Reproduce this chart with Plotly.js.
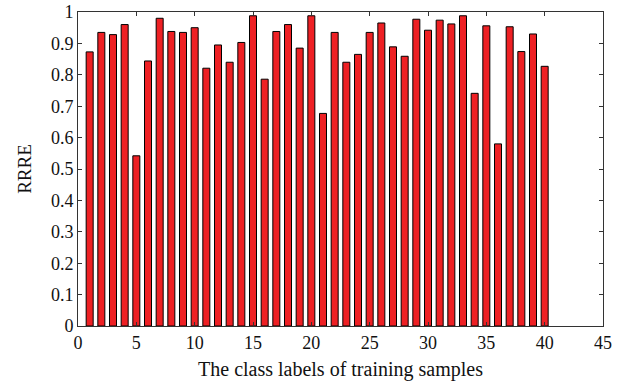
<!DOCTYPE html>
<html>
<head>
<meta charset="utf-8">
<script src="https://cdn.plot.ly/plotly-3.0.1.min.js"></script>
<style>html,body{margin:0;padding:0;background:#fff;}#chart{width:633px;height:390px;}</style>
</head>
<body>
<div id="chart"></div>
<script>
const classLabels = [1,2,3,4,5,6,7,8,9,10,11,12,13,14,15,16,17,18,19,20,21,22,23,24,25,26,27,28,29,30,31,32,33,34,35,36,37,38,39,40];
const rrreValues = [0.873,0.935,0.928,0.960,0.542,0.844,0.980,0.938,0.935,0.950,
                    0.821,0.895,0.840,0.903,0.988,0.786,0.938,0.960,0.885,0.988,
                    0.677,0.935,0.840,0.865,0.935,0.965,0.889,0.859,0.977,0.942,
                    0.974,0.962,0.988,0.741,0.956,0.580,0.953,0.874,0.930,0.827];
const xTitle = "The class labels of training samples";
const yTitle = "RRRE";

const fontFamily = "'Liberation Serif', 'DejaVu Serif', serif";

Plotly.newPlot('chart', [{
  type: 'bar',
  x: classLabels,
  y: rrreValues,
  width: 0.6,
  marker: {color: '#ee2024', line: {color: '#000', width: 1}},
  hoverinfo: 'none'
}], {
  width: 633, height: 390,
  margin: {l: 78, r: 30, t: 12, b: 64},
  paper_bgcolor: '#fff', plot_bgcolor: '#fff',
  showlegend: false,
  font: {family: fontFamily, size: 18, color: '#111'},
  xaxis: {
    range: [0, 45], dtick: 5, tick0: 0,
    showgrid: false, zeroline: false,
    showline: true, linecolor: '#333', linewidth: 1, mirror: 'ticks',
    ticks: 'inside', ticklen: 4, tickcolor: '#333',
    tickfont: {family: fontFamily, size: 18},
    title: {text: xTitle, font: {family: fontFamily, size: 20}, standoff: 10}
  },
  yaxis: {
    range: [0, 1], dtick: 0.1, tick0: 0,
    showgrid: false, zeroline: false,
    showline: true, linecolor: '#333', linewidth: 1, mirror: 'ticks',
    ticks: 'inside', ticklen: 4, tickcolor: '#333',
    tickfont: {family: fontFamily, size: 18},
    title: {text: yTitle, font: {family: fontFamily, size: 19}, standoff: 14}
  }
}, {staticPlot: true});
</script>
</body>
</html>
